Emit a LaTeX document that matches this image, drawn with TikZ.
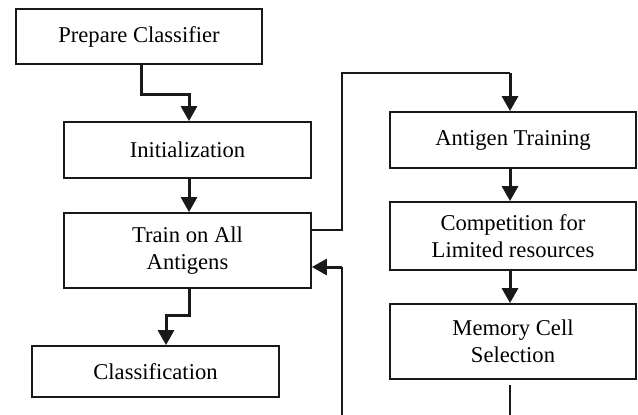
\documentclass[tikz,border=0pt]{standalone}
\usepackage{fontspec}
\setmainfont{Liberation Serif}
\usetikzlibrary{arrows.meta}
\begin{document}
\begin{tikzpicture}[x=1pt,y=-1pt,
  box/.style={draw=black!90,line width=1.8pt,inner sep=0pt,align=center,
    font=\fontsize{22.6}{26.5}\selectfont},
  arr/.style={draw=black!90,line width=3pt,-{Triangle[length=15pt,width=16pt]}},
  thinline/.style={draw=black!90,line width=1.5pt}]
\useasboundingbox (0,0) rectangle (638,415);
\node[box,minimum width=246pt,minimum height=55pt] (prep) at (139,36.5) {Prepare Classifier};
\node[box,minimum width=247pt,minimum height=56pt] (init) at (187.5,150) {Initialization};
\node[box,minimum width=247pt,minimum height=75pt] (train) at (187.5,250.5) {Train on All\\Antigens};
\node[box,minimum width=247pt,minimum height=51pt] (cls) at (155.5,371.5) {Classification};
\node[box,minimum width=246pt,minimum height=56pt] (ant) at (513,140) {Antigen Training};
\node[box,minimum width=246pt,minimum height=68pt] (comp) at (513,236) {Competition for\\Limited resources};
\node[box,minimum width=246pt,minimum height=75pt] (mem) at (513,341.5) {Memory Cell\\Selection};
\coordinate (ctop) at (342,73);
\coordinate (cturn) at (510,73);
\coordinate (cb1) at (510,385);
\coordinate (cb2) at (510,415);
\coordinate (cl1) at (342,415);
\coordinate (cl2) at (342,267);
% left column
\draw[arr] ([xshift=2pt]prep.south) -- ++(0,30) -| ([xshift=1.5pt]init.north);
\draw[arr] ([xshift=1.5pt]init.south) -- ([xshift=1.5pt]train.north);
\draw[arr] ([xshift=1.5pt]train.south) -- ++(0,27) -| ([xshift=10.5pt]cls.north);
% to antigen training
\draw[thinline] ([yshift=20.5pt]train.east) -| (ctop) -- (cturn);
\draw[arr] (cturn) -- ([xshift=-3pt]ant.north);
% right column
\draw[arr] ([xshift=-3pt]ant.south) -- ([xshift=-3pt]comp.north);
\draw[arr] ([xshift=-3pt]comp.south) -- ([xshift=-3pt]mem.north);
\draw[thinline] (cb1) -- (cb2);
% loop back
\draw[thinline] (cl1) -- (cl2);
\draw[arr] (cl2) -- (train.east |- cl2);
\end{tikzpicture}
\end{document}
